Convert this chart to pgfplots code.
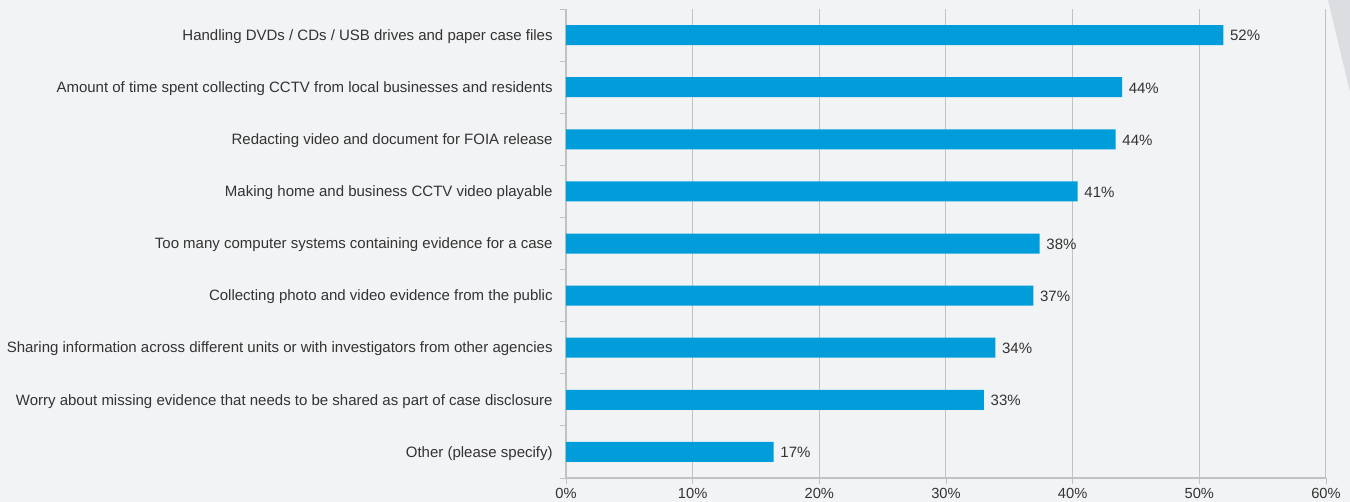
\documentclass[border=0pt]{standalone}
\usepackage{pgfplots}
\pgfplotsset{compat=1.18}
\usepackage{fontspec}
\setmainfont{Liberation Sans}
\definecolor{bg}{HTML}{F2F3F5}
\definecolor{barc}{HTML}{009DDA}
\definecolor{gridc}{HTML}{C2C2C2}
\definecolor{txt}{HTML}{333333}
\definecolor{deco}{HTML}{DCDDE0}
\begin{document}
\begin{tikzpicture}[x=1pt,y=1pt]
\fill[bg] (-424.5,-18) rectangle (588,358.5);
\fill[deco] (571.5,358.5) -- (588,358.5) -- (588,289.5) -- cycle;
\useasboundingbox (-424.5,-18) rectangle (588,358.5);
\begin{axis}[
  at={(0,0)}, anchor=south west, scale only axis,
  width=570pt, height=351.75pt,
  xbar, bar width=15pt,
  xmin=0, xmax=60, ymin=-0.5, ymax=8.5, y dir=reverse,
  /pgf/number format/assume math mode=true,
  xtick={0,10,...,60},
  xticklabel={\pgfmathprintnumber{\tick}\%},
  ytick={0,...,8},
  yticklabels={
    Handling DVDs / CDs / USB drives and paper case files,
    Amount of time spent collecting CCTV from local businesses and residents,
    Redacting video and document for FOIA release,
    Making home and business CCTV video playable,
    Too many computer systems containing evidence for a case,
    Collecting photo and video evidence from the public,
    Sharing information across different units or with investigators from other agencies,
    Worry about missing evidence that needs to be shared as part of case disclosure,
    Other (please specify)},
  minor ytick={-0.5,0.5,...,8.5},
  axis x line=bottom, axis y line=left,
  axis line style={draw=gridc, line width=0.8pt, -},
  tick align=outside,
  major tick length=4.5pt, minor tick length=4.5pt,
  every tick/.style={draw=gridc, line width=0.6pt},
  major y tick style={draw=none},
  xmajorgrids, grid style={draw=gridc, line width=0.75pt},
  ticklabel style={font=\fontsize{11}{13}\selectfont, text=txt},
  yticklabel style={font=\fontsize{11.25}{13}\selectfont, xshift=-2pt, yshift=-1pt},
  nodes near coords={\pgfmathprintnumber{\pgfplotspointmeta}\%},
  every node near coord/.append style={font=\fontsize{11.25}{13}\selectfont, text=txt, anchor=west, xshift=1.5pt, yshift=-0.5pt},
]
\addplot[fill=barc, draw=none, point meta=explicit] table[x=v, y=i, meta=l] {
i v l
0 51.9 52
1 43.9 44
2 43.4 44
3 40.4 41
4 37.4 38
5 36.9 37
6 33.9 34
7 33.0 33
8 16.4 17
};
\end{axis}
\end{tikzpicture}
\end{document}
